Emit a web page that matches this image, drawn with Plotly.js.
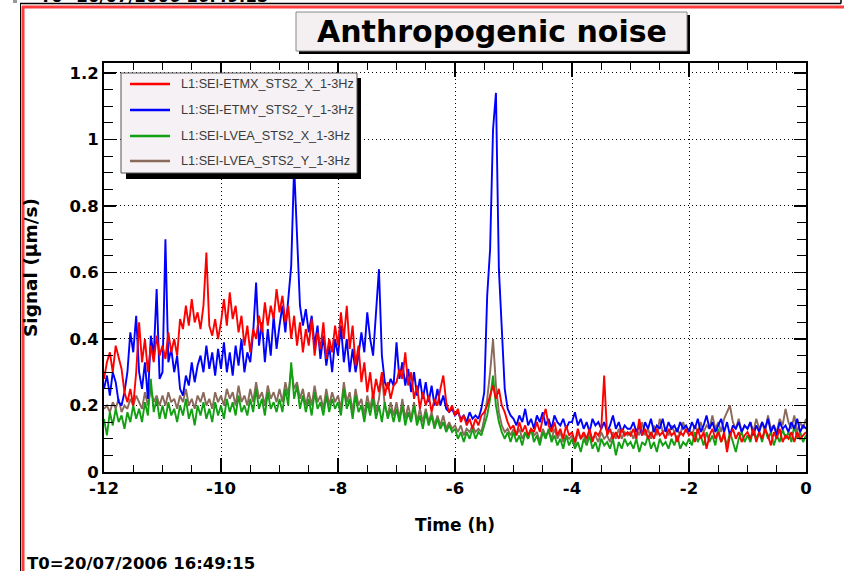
<!DOCTYPE html>
<html>
<head>
<meta charset="utf-8">
<script src="https://cdn.plot.ly/plotly-3.0.1.min.js"></script>
<style>html,body{margin:0;padding:0;background:#fff;}#chart{width:844px;height:571px;}</style>
</head>
<body>
<div id="chart"></div>
<script>
// ---- data (hours before T0, sampled every 0.05 h) ----
const tStart = -12;
const tStep = 0.05;

const seriesNames = [
  "L1:SEI-ETMX_STS2_X_1-3Hz",
  "L1:SEI-ETMY_STS2_Y_1-3Hz",
  "L1:SEI-LVEA_STS2_X_1-3Hz",
  "L1:SEI-LVEA_STS2_Y_1-3Hz"
];

const etmxX = [
  0.28,0.33,0.36,0.30,0.38,0.34,0.31,0.24,0.21,0.25,0.20,0.30,0.45,0.33,0.40,0.30,0.38,0.33,0.41,0.35,
  0.38,0.34,0.42,0.36,0.40,0.35,0.46,0.43,0.50,0.44,0.52,0.45,0.48,0.43,0.50,0.66,0.44,0.41,0.46,0.40,
  0.45,0.52,0.44,0.54,0.46,0.50,0.42,0.47,0.38,0.44,0.36,0.43,0.40,0.47,0.42,0.51,0.44,0.50,0.46,0.55,
  0.48,0.53,0.45,0.50,0.40,0.47,0.38,0.45,0.36,0.43,0.38,0.46,0.35,0.42,0.37,0.45,0.34,0.40,0.36,0.44,
  0.38,0.48,0.40,0.50,0.37,0.44,0.32,0.38,0.27,0.33,0.24,0.30,0.22,0.28,0.24,0.30,0.23,0.27,0.22,0.26,
  0.27,0.31,0.28,0.36,0.26,0.30,0.22,0.26,0.19,0.24,0.20,0.23,0.18,0.22,0.20,0.25,0.29,0.21,0.18,0.20,
  0.17,0.19,0.15,0.17,0.14,0.16,0.13,0.16,0.14,0.17,0.18,0.20,0.23,0.26,0.22,0.25,0.20,0.18,0.15,0.13,
  0.14,0.11,0.15,0.12,0.14,0.11,0.13,0.12,0.15,0.12,0.16,0.19,0.14,0.12,0.15,0.11,0.13,0.10,0.14,0.11,
  0.12,0.09,0.13,0.10,0.12,0.10,0.13,0.09,0.12,0.11,0.13,0.29,0.11,0.13,0.10,0.12,0.10,0.13,0.11,0.12,
  0.11,0.13,0.10,0.16,0.11,0.13,0.10,0.12,0.10,0.13,0.11,0.12,0.10,0.13,0.11,0.12,0.09,0.12,0.11,0.13,
  0.11,0.12,0.09,0.13,0.10,0.12,0.07,0.11,0.13,0.10,0.12,0.09,0.12,0.06,0.11,0.13,0.10,0.12,0.09,0.11,
  0.12,0.10,0.13,0.09,0.12,0.10,0.13,0.11,0.08,0.12,0.10,0.13,0.09,0.11,0.10,0.12,0.09,0.12,0.10,0.11,0.12
];

const etmyY = [
  0.25,0.29,0.23,0.30,0.27,0.21,0.20,0.24,0.30,0.42,0.36,0.47,0.30,0.25,0.33,0.22,0.41,0.35,0.55,0.28,
  0.30,0.70,0.33,0.37,0.30,0.35,0.25,0.23,0.29,0.26,0.33,0.27,0.32,0.35,0.30,0.38,0.31,0.36,0.29,0.37,
  0.31,0.39,0.30,0.36,0.29,0.38,0.32,0.40,0.30,0.36,0.33,0.42,0.57,0.38,0.45,0.33,0.43,0.35,0.47,0.37,
  0.44,0.50,0.42,0.53,0.62,0.92,0.70,0.50,0.44,0.49,0.42,0.47,0.38,0.44,0.34,0.41,0.32,0.38,0.30,0.40,
  0.35,0.44,0.33,0.40,0.30,0.37,0.30,0.35,0.42,0.36,0.48,0.40,0.35,0.47,0.61,0.35,0.27,0.25,0.28,0.26,
  0.39,0.28,0.33,0.26,0.31,0.24,0.30,0.23,0.28,0.22,0.27,0.21,0.26,0.20,0.25,0.20,0.23,0.19,0.18,0.19,
  0.17,0.18,0.16,0.17,0.15,0.18,0.16,0.17,0.16,0.19,0.24,0.53,0.67,1.03,1.14,0.61,0.44,0.25,0.19,0.17,
  0.16,0.14,0.17,0.15,0.19,0.14,0.16,0.13,0.17,0.15,0.18,0.14,0.16,0.13,0.17,0.15,0.14,0.16,0.13,0.15,
  0.15,0.18,0.14,0.16,0.13,0.15,0.12,0.16,0.14,0.15,0.13,0.15,0.12,0.14,0.17,0.13,0.15,0.12,0.14,0.13,
  0.13,0.15,0.12,0.14,0.11,0.15,0.13,0.16,0.12,0.14,0.13,0.16,0.12,0.15,0.13,0.14,0.12,0.15,0.13,0.14,
  0.12,0.15,0.13,0.16,0.12,0.14,0.17,0.13,0.15,0.12,0.14,0.16,0.12,0.15,0.11,0.14,0.13,0.15,0.12,0.14,
  0.13,0.15,0.11,0.14,0.12,0.15,0.13,0.16,0.12,0.14,0.11,0.15,0.13,0.14,0.12,0.15,0.13,0.16,0.12,0.14,0.13
];

const lveaX = [
  0.16,0.11,0.18,0.14,0.19,0.15,0.17,0.13,0.18,0.15,0.20,0.16,0.19,0.15,0.21,0.17,0.28,0.18,0.22,0.16,
  0.20,0.16,0.21,0.17,0.19,0.15,0.20,0.17,0.22,0.16,0.19,0.14,0.20,0.17,0.21,0.16,0.19,0.15,0.21,0.17,
  0.20,0.16,0.22,0.18,0.21,0.17,0.23,0.18,0.20,0.17,0.22,0.18,0.25,0.19,0.22,0.17,0.24,0.19,0.21,0.18,
  0.22,0.18,0.25,0.20,0.33,0.22,0.26,0.19,0.23,0.18,0.22,0.17,0.24,0.19,0.21,0.17,0.23,0.18,0.22,0.19,
  0.21,0.17,0.25,0.19,0.22,0.16,0.23,0.18,0.20,0.15,0.21,0.17,0.22,0.16,0.20,0.15,0.21,0.16,0.19,0.15,
  0.19,0.15,0.20,0.14,0.18,0.15,0.20,0.14,0.17,0.13,0.18,0.14,0.17,0.13,0.16,0.13,0.15,0.12,0.14,0.12,
  0.13,0.10,0.12,0.09,0.12,0.10,0.13,0.10,0.12,0.11,0.14,0.17,0.22,0.29,0.20,0.15,0.12,0.10,0.12,0.09,
  0.12,0.09,0.11,0.08,0.12,0.10,0.13,0.09,0.11,0.08,0.12,0.10,0.13,0.09,0.11,0.08,0.10,0.07,0.11,0.08,
  0.10,0.07,0.09,0.06,0.10,0.08,0.11,0.07,0.09,0.06,0.10,0.08,0.09,0.07,0.10,0.05,0.09,0.07,0.10,0.08,
  0.09,0.07,0.10,0.06,0.09,0.08,0.11,0.07,0.09,0.06,0.10,0.08,0.09,0.07,0.10,0.08,0.11,0.07,0.09,0.08,
  0.10,0.08,0.12,0.09,0.11,0.08,0.12,0.09,0.11,0.08,0.13,0.09,0.11,0.08,0.12,0.09,0.06,0.10,0.12,0.09,
  0.11,0.09,0.13,0.10,0.12,0.09,0.13,0.10,0.12,0.08,0.11,0.09,0.13,0.10,0.12,0.09,0.14,0.10,0.12,0.09,0.11
];

const lveaY = [
  0.19,0.20,0.18,0.21,0.19,0.22,0.18,0.20,0.19,0.22,0.20,0.23,0.21,0.19,0.24,0.20,0.25,0.21,0.23,0.20,
  0.23,0.20,0.24,0.21,0.22,0.19,0.23,0.21,0.25,0.20,0.22,0.19,0.23,0.21,0.24,0.20,0.22,0.19,0.24,0.21,
  0.23,0.20,0.25,0.22,0.24,0.20,0.26,0.21,0.23,0.20,0.25,0.21,0.27,0.22,0.24,0.20,0.26,0.22,0.24,0.21,
  0.25,0.21,0.27,0.23,0.31,0.25,0.27,0.22,0.25,0.20,0.24,0.20,0.26,0.21,0.23,0.19,0.25,0.20,0.24,0.21,
  0.23,0.19,0.27,0.21,0.24,0.18,0.25,0.20,0.22,0.17,0.23,0.19,0.24,0.18,0.22,0.29,0.20,0.17,0.21,0.17,
  0.21,0.16,0.22,0.16,0.20,0.16,0.21,0.15,0.19,0.15,0.19,0.15,0.18,0.14,0.17,0.14,0.17,0.13,0.15,0.13,
  0.14,0.12,0.14,0.11,0.13,0.12,0.14,0.12,0.13,0.12,0.16,0.22,0.30,0.40,0.26,0.18,0.14,0.12,0.13,0.11,
  0.13,0.11,0.13,0.10,0.12,0.10,0.13,0.11,0.12,0.09,0.13,0.11,0.12,0.10,0.13,0.10,0.12,0.09,0.11,0.10,
  0.11,0.08,0.12,0.10,0.11,0.09,0.12,0.10,0.11,0.09,0.12,0.10,0.11,0.09,0.12,0.10,0.13,0.10,0.12,0.11,
  0.12,0.10,0.13,0.11,0.15,0.11,0.13,0.10,0.14,0.11,0.16,0.12,0.13,0.11,0.14,0.12,0.13,0.11,0.15,0.12,
  0.13,0.11,0.14,0.12,0.15,0.12,0.14,0.13,0.17,0.13,0.15,0.12,0.16,0.18,0.20,0.15,0.13,0.16,0.12,0.14,
  0.13,0.15,0.12,0.16,0.13,0.15,0.12,0.17,0.13,0.14,0.12,0.16,0.14,0.19,0.15,0.13,0.17,0.12,0.15,0.13,0.16
];

const xTickVals = [-12, -10, -8, -6, -4, -2, 0];
const xTickText = ["-12", "-10", "-8", "-6", "-4", "-2", "0"];

const chartTitle = "Anthropogenic noise";
const xTitle = "Time (h)";
const yTitle = "Signal (\u03bcm/s)";
const t0Label = "T0=20/07/2006 16:49:15";

// ---- presentation ----
const hours = etmxX.map((_, i) => tStart + i * tStep);
const colors = ["#ff0000", "#0000ff", "#12a012", "#8a6a5a"];

const L = 104, R = 806, T = 63, B = 472;
const px = x => (x - L) / (R - L);
const py = y => (B - y) / (B - T);

const boldFont = {family: "DejaVu Sans, Arial, sans-serif", weight: "bold", color: "#000"};

const seriesData = [etmxX, etmyY, lveaX, lveaY];
const drawOrder = [3, 2, 1, 0];
const traces = drawOrder.map(k => ({
  type: "scatter", mode: "lines", x: hours, y: seriesData[k], name: seriesNames[k],
  line: {color: colors[k], width: 1.9}, showlegend: false, hoverinfo: "skip"
}));

const shapes = [
  // canvas frames
  {type: "line", xref: "paper", yref: "paper", x0: px(20), x1: px(841), y0: py(3.5), y1: py(3.5), line: {color: "#000", width: 1.5}},
  {type: "line", xref: "paper", yref: "paper", x0: px(841), x1: px(841), y0: py(-2), y1: py(3.5), line: {color: "#000", width: 1.5}},
  {type: "rect", xref: "paper", yref: "paper", x0: px(13), x1: px(17), y0: py(-1), y1: py(3), fillcolor: "#999", line: {width: 0}},
  {type: "line", xref: "paper", yref: "paper", x0: px(20.5), x1: px(20.5), y0: py(3), y1: py(575), line: {color: "#000", width: 1}},
  {type: "line", xref: "paper", yref: "paper", x0: px(22), x1: px(850), y0: py(7), y1: py(7), line: {color: "#ff3b3b", width: 3}},
  {type: "line", xref: "paper", yref: "paper", x0: px(23), x1: px(23), y0: py(6), y1: py(575), line: {color: "#ff3b3b", width: 3}},
  // title box
  {type: "rect", xref: "paper", yref: "paper", x0: px(299), x1: px(690), y0: py(54), y1: py(15), fillcolor: "#000", line: {width: 0}},
  {type: "rect", xref: "paper", yref: "paper", x0: px(296), x1: px(687), y0: py(51), y1: py(12), fillcolor: "#f4f0f2", line: {color: "#888", width: 1}},
  // legend box
  {type: "rect", xref: "paper", yref: "paper", layer: "above", x0: px(126), x1: px(361), y0: py(179), y1: py(78), fillcolor: "#000", line: {width: 0}},
  {type: "rect", xref: "paper", yref: "paper", layer: "above", x0: px(121), x1: px(357), y0: py(173), y1: py(73), fillcolor: "#f5f1f4", line: {color: "#555", width: 1}}
];
const legendY = [84, 110, 136, 161];
const annotations = [
  {text: chartTitle, xref: "paper", yref: "paper", x: px(491.5), y: py(31.5), xanchor: "center", yanchor: "middle", showarrow: false, font: Object.assign({}, boldFont, {size: 30})},
  {text: t0Label, xref: "paper", yref: "paper", x: px(25), y: py(563), xanchor: "left", yanchor: "middle", showarrow: false, font: Object.assign({}, boldFont, {size: 16.5})},
  {text: t0Label, xref: "paper", yref: "paper", x: px(38), y: py(8), xanchor: "left", yanchor: "bottom", showarrow: false, font: Object.assign({}, boldFont, {size: 16.5})}
];
seriesNames.forEach((n, k) => {
  shapes.push({type: "line", xref: "paper", yref: "paper", layer: "above", x0: px(130), x1: px(170), y0: py(legendY[k]), y1: py(legendY[k]), line: {color: colors[k], width: 2.5}});
  annotations.push({text: n, xref: "paper", yref: "paper", x: px(179), y: py(legendY[k]), xanchor: "left", yanchor: "middle", showarrow: false, font: {family: "Liberation Sans, Arial, sans-serif", size: 12.7, color: "#3a3a3a"}});
});

const layout = {
  width: 844, height: 571,
  margin: {l: L, r: 844 - R, t: T, b: 571 - B, pad: 0},
  paper_bgcolor: "#fff", plot_bgcolor: "#fff",
  showlegend: false,
  xaxis: {
    range: [-12, 0], tickmode: "array", tickvals: xTickVals, ticktext: xTickText,
    ticks: "inside", ticklen: 14, tickwidth: 1.5, tickcolor: "#000",
    showline: true, linecolor: "#000", linewidth: 2, mirror: "ticks",
    showgrid: true, gridcolor: "#000", gridwidth: 1, griddash: "1px,3px", zeroline: false,
    minor: {dtick: 0.5, tick0: 0, ticks: "inside", ticklen: 7, tickwidth: 1, tickcolor: "#000", showgrid: false},
    tickfont: Object.assign({}, boldFont, {size: 16.5}),
    title: {text: xTitle, font: Object.assign({}, boldFont, {size: 17}), standoff: 22},
    automargin: false, fixedrange: true
  },
  yaxis: {
    range: [0, 1.23], dtick: 0.2, tick0: 0,
    ticks: "inside", ticklen: 12, tickwidth: 1.5, tickcolor: "#000",
    showline: true, linecolor: "#000", linewidth: 2, mirror: "ticks",
    showgrid: true, gridcolor: "#000", gridwidth: 1, griddash: "1px,3px", zeroline: false,
    minor: {dtick: 0.05, tick0: 0, ticks: "inside", ticklen: 9, tickwidth: 1, tickcolor: "#000", showgrid: false},
    tickfont: Object.assign({}, boldFont, {size: 16.5}),
    title: {text: yTitle, font: Object.assign({}, boldFont, {size: 18.5}), standoff: 27},
    automargin: false, fixedrange: true
  },
  shapes: shapes,
  annotations: annotations
};

Plotly.newPlot("chart", traces, layout, {displayModeBar: false, staticPlot: true});
</script>
</body>
</html>
